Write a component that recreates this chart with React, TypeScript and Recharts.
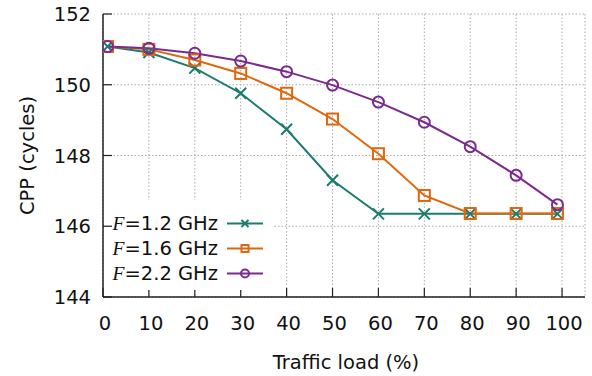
import { CartesianGrid, Label, Legend, Line, LineChart, XAxis, YAxis } from 'recharts';

// traffic load (%) at each measurement point
const LOAD = [1, 10, 20, 30, 40, 50, 60, 70, 80, 90, 99];

// CPP (cycles) per frequency
const CPP_12 = [151.08, 150.91, 150.47, 149.76, 148.74, 147.3, 146.35, 146.35, 146.35, 146.35, 146.35];
const CPP_16 = [151.08, 151.0, 150.7, 150.32, 149.76, 149.03, 148.05, 146.87, 146.36, 146.36, 146.36];
const CPP_22 = [151.08, 151.03, 150.89, 150.67, 150.37, 149.99, 149.51, 148.94, 148.25, 147.44, 146.61];

const X_TICKS = [0, 10, 20, 30, 40, 50, 60, 70, 80, 90, 100];
const Y_TICKS = [144, 146, 148, 150, 152];

const SERIES = [
  { key: 'f12', label: '=1.2 GHz', color: '#1b7c6e', shape: 'cross' },
  { key: 'f16', label: '=1.6 GHz', color: '#e0670e', shape: 'square' },
  { key: 'f22', label: '=2.2 GHz', color: '#7a2b8e', shape: 'circle' },
];

const DATA = LOAD.map((load, i) => ({ load, f12: CPP_12[i], f16: CPP_16[i], f22: CPP_22[i] }));

const FONT = "'DejaVu Sans', sans-serif";
const AXIS = '#222';
const FS = 19.5;

function Marker({ cx, cy, color, shape, s }: { cx: number; cy: number; color: string; shape: string; s: number }) {
  if (shape === 'cross') {
    return (
      <path
        d={`M${cx - s},${cy - s}L${cx + s},${cy + s}M${cx - s},${cy + s}L${cx + s},${cy - s}`}
        stroke={color}
        strokeWidth={2}
        fill="none"
      />
    );
  }
  if (shape === 'square') {
    return <rect x={cx - s} y={cy - s} width={2 * s} height={2 * s} stroke={color} strokeWidth={2} fill="none" />;
  }
  return <circle cx={cx} cy={cy} r={s} stroke={color} strokeWidth={2} fill="none" />;
}

const XTick = (p: any) => {
  const axisY = p.y - 10;
  return (
    <g>
      <line x1={p.x} x2={p.x} y1={axisY} y2={axisY - 9} stroke={AXIS} strokeWidth={1.2} />
      <text x={p.x + 2} y={axisY + 33} textAnchor="middle" fontFamily={FONT} fontSize={FS} fill="#111">
        {p.payload.value}
      </text>
    </g>
  );
};

const YTick = (p: any) => {
  const axisX = p.x + 10;
  return (
    <g>
      <line x1={axisX} x2={axisX + 9} y1={p.y} y2={p.y} stroke={AXIS} strokeWidth={1.2} />
      <text x={axisX - 12} y={p.y + 7} textAnchor="end" fontFamily={FONT} fontSize={FS} fill="#111">
        {p.payload.value}
      </text>
    </g>
  );
};

const renderLegend = () => (
  <div style={{ background: '#fff', paddingTop: 11, height: 79 }}>
    {SERIES.map((s) => (
      <div key={s.key} style={{ display: 'flex', alignItems: 'center', height: 25 }}>
        <span style={{ width: 106, textAlign: 'right', fontFamily: FONT, fontSize: FS, color: '#111', whiteSpace: 'nowrap' }}>
          <span style={{ fontFamily: "'Liberation Serif', serif", fontStyle: 'italic' }}>F</span>
          {s.label}
        </span>
        <svg width={50} height={25} style={{ display: 'block' }}>
          <line x1={9} x2={45} y1={12.5} y2={12.5} stroke={s.color} strokeWidth={2} />
          <Marker cx={27} cy={12.5} color={s.color} shape={s.shape} s={s.shape === 'circle' ? 4 : 3.5} />
        </svg>
      </div>
    ))}
  </div>
);

export default function App() {
  return (
    <div style={{ position: 'absolute', left: 0, top: 0, background: '#fff' }}>
      <LineChart width={592} height={376} data={DATA} margin={{ top: 14, right: 7, bottom: 0, left: 0 }}>
        <CartesianGrid stroke="#aaaaaa" strokeDasharray="1.5 2" strokeWidth={1} />
        <XAxis
          type="number"
          dataKey="load"
          domain={[0, 105]}
          ticks={X_TICKS}
          allowDataOverflow
          height={79}
          tickSize={0}
          tickMargin={10}
          tick={<XTick />}
          axisLine={{ stroke: AXIS, strokeWidth: 1.5 }}
        >
          <Label
            content={() => (
              <text x={346} y={369} textAnchor="middle" fontFamily={FONT} fontSize={FS} fill="#111">
                Traffic load (%)
              </text>
            )}
          />
        </XAxis>
        <XAxis xAxisId="top" orientation="top" type="number" domain={[0, 105]} height={0} tick={false} tickLine={false} axisLine={{ stroke: AXIS, strokeWidth: 1.5 }} />
        <YAxis
          type="number"
          domain={[144, 152]}
          ticks={Y_TICKS}
          width={103}
          tickSize={0}
          tickMargin={10}
          tick={<YTick />}
          axisLine={{ stroke: AXIS, strokeWidth: 1.5 }}
        >
          <Label
            content={() => (
              <text
                x={27}
                y={155.5}
                transform="rotate(-90, 27, 155.5)"
                textAnchor="middle"
                dominantBaseline="central"
                fontFamily={FONT}
                fontSize={FS}
                fill="#111"
              >
                CPP (cycles)
              </text>
            )}
          />
        </YAxis>
        <YAxis yAxisId="right" orientation="right" type="number" domain={[144, 152]} width={0} tick={false} tickLine={false} axisLine={{ stroke: AXIS, strokeWidth: 1.5 }} />
        {SERIES.map((s) => (
          <Line
            key={s.key}
            type="linear"
            dataKey={s.key}
            stroke={s.color}
            strokeWidth={2}
            isAnimationActive={false}
            dot={(p: any) => (
              <Marker key={`${s.key}-${p.index}`} cx={p.cx} cy={p.cy} color={s.color} shape={s.shape} s={5.5} />
            )}
            activeDot={false}
          />
        ))}
        <Legend
          layout="vertical"
          align="center"
          verticalAlign="middle"
          content={renderLegend}
          wrapperStyle={{ position: 'absolute', left: 112, top: 200, width: 162, height: 90 }}
        />
      </LineChart>
    </div>
  );
}
